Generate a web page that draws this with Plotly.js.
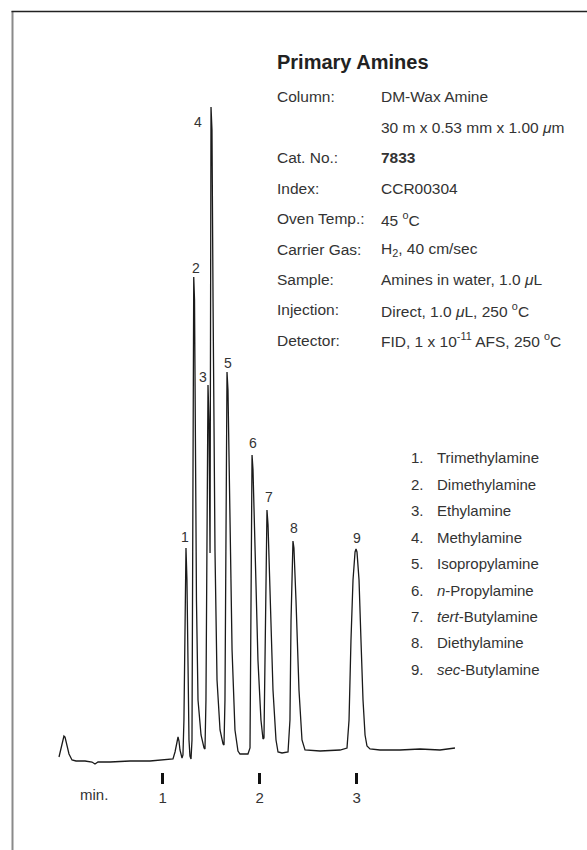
<!DOCTYPE html>
<html>
<head>
<meta charset="utf-8">
<script src="https://cdn.plot.ly/plotly-3.0.1.min.js"></script>
<style>
  html, body { margin: 0; padding: 0; background: #fff; }
  #chart { width: 587px; height: 850px; }
</style>
</head>
<body>
<div id="chart"></div>
<script>
// ---------------- DATA ----------------
// retention time (min) and detector response (arbitrary units)
const timeMin = [
  -0.069, -0.048, -0.028, -0.018, -0.007, 0.013, 0.034, 0.065, 0.106, 0.199, 0.271, 0.302, 0.333, 0.457, 0.663, 0.869, 1.055, 1.106,
  1.127, 1.148, 1.158, 1.168, 1.178, 1.199,
  1.209, 1.219, 1.230, 1.240, 1.250, 1.261, 1.271, 1.281, 1.292,
  1.302, 1.312, 1.320, 1.328, 1.338, 1.348, 1.364, 1.395, 1.426, 1.436,
  1.446, 1.457, 1.467, 1.477, 1.488,
  1.498, 1.508, 1.519, 1.539, 1.560, 1.591, 1.622, 1.632,
  1.642, 1.653, 1.663, 1.673, 1.694, 1.715, 1.745, 1.776, 1.797, 1.879, 1.900,
  1.910, 1.921, 1.931, 1.952, 1.982, 2.013, 2.034, 2.044,
  2.055, 2.075, 2.086, 2.106, 2.137, 2.168, 2.189, 2.230, 2.292, 2.312,
  2.323, 2.343, 2.353, 2.374, 2.405, 2.436, 2.467, 2.622, 2.828, 2.900,
  2.921, 2.941, 2.962, 2.983, 2.993, 3.003, 3.024, 3.044, 3.065, 3.086, 3.106, 3.137, 3.240, 3.446, 3.653, 3.859, 4.013
];
const response = [
  13, 22, 32, 34, 33, 25, 16, 10, 9, 9, 8, 6, 8, 8, 9, 9, 10, 11,
  18, 30, 33, 29, 20, 12,
  15, 50, 150, 222, 190, 90, 30, 14, 11,
  30, 320, 493, 470, 320, 170, 70, 35, 22, 21,
  70, 270, 385, 350, 217,
  663, 640, 470, 220, 90, 40, 26, 25,
  70, 270, 398, 380, 250, 120, 40, 19, 16, 16, 22,
  170, 315, 300, 210, 110, 50, 31, 32,
  120, 260, 245, 170, 80, 30, 18, 17, 18, 50,
  150, 229, 222, 170, 80, 30, 20, 19, 20, 22,
  50, 130, 190, 218, 221, 218, 190, 130, 70, 35, 24, 21, 20, 20, 21, 20, 22
];

// peak apexes
const peakNumbers = ['1', '2', '3', '4', '5', '6', '7', '8', '9'];
const peakTimes   = [1.240, 1.320, 1.467, 1.498, 1.663, 1.921, 2.075, 2.343, 2.993];
const peakHeights = [222, 493, 385, 663, 398, 315, 260, 229, 221];

// compound list
const compoundNames = [
  'Trimethylamine', 'Dimethylamine', 'Ethylamine', 'Methylamine', 'Isopropylamine',
  '<i>n</i>-Propylamine', '<i>tert</i>-Butylamine', 'Diethylamine', '<i>sec</i>-Butylamine'
];

// conditions
const condLabels = ['Column:', '', 'Cat. No.:', 'Index:', 'Oven Temp.:', 'Carrier Gas:', 'Sample:', 'Injection:', 'Detector:'];
const condValues = [
  'DM-Wax Amine',
  '30 m x 0.53 mm x 1.00 <i>μ</i>m',
  '<b>7833</b>',
  'CCR00304',
  '45 <sup>o</sup>C',
  'H<sub>2</sub>, 40 cm/sec',
  'Amines in water, 1.0 <i>μ</i>L',
  'Direct, 1.0 <i>μ</i>L, 250 <sup>o</sup>C',
  'FID, 1 x 10<sup>-11</sup> AFS, 250 <sup>o</sup>C'
];

const titleText = 'Primary Amines';
const tickVals = [1, 2, 3];
const tickText = ['1', '2', '3'];
const axisUnit = 'min.';

// ---------------- LAYOUT HELPERS ----------------
const W = 587, H = 850;
const M = { l: 0, r: 0, t: 72, b: 78 };
const plotH = H - M.t - M.b;            // 700
const px = x => x / W;                  // pixel -> paper x
const py = y => (H - M.b - y) / plotH;  // pixel -> paper y

const FONT = '"Liberation Sans", Arial, Helvetica, sans-serif';
const TXT = '#333333';

const annotations = [];

// title
annotations.push({
  xref: 'paper', yref: 'paper', x: px(275), y: py(62), xanchor: 'left', yanchor: 'middle',
  text: titleText, showarrow: false, font: { family: FONT, size: 20, color: '#222', weight: 'bold' }
});

// conditions block
condLabels.forEach((lab, i) => {
  const yy = 97 + i * 30.4;
  if (lab) annotations.push({
    xref: 'paper', yref: 'paper', x: px(275), y: py(yy), xanchor: 'left', yanchor: 'middle',
    text: lab, showarrow: false, font: { family: FONT, size: 15.5, color: TXT }
  });
  annotations.push({
    xref: 'paper', yref: 'paper', x: px(379), y: py(yy), xanchor: 'left', yanchor: 'middle',
    text: condValues[i], showarrow: false, font: { family: FONT, size: 15.5, color: TXT }
  });
});

// compound list
compoundNames.forEach((nm, i) => {
  const yy = 458 + i * 26.4;
  annotations.push({
    xref: 'paper', yref: 'paper', x: px(409), y: py(yy), xanchor: 'left', yanchor: 'middle',
    text: peakNumbers[i] + '.', showarrow: false, font: { family: FONT, size: 15, color: TXT }
  });
  annotations.push({
    xref: 'paper', yref: 'paper', x: px(435), y: py(yy), xanchor: 'left', yanchor: 'middle',
    text: nm, showarrow: false, font: { family: FONT, size: 15, color: TXT }
  });
});

// peak number labels, attached to the apexes
const labDx = [-1, 2, -5, -13, 1, 1, 2, 1, 1];
const labDy = [11, 9, 8, -15, 9, 12, 13, 13, 11];
peakNumbers.forEach((n, i) => {
  annotations.push({
    xref: 'x', yref: 'y', x: peakTimes[i], y: peakHeights[i], xshift: labDx[i], yshift: labDy[i],
    xanchor: 'center', yanchor: 'middle', text: n, showarrow: false,
    font: { family: FONT, size: 14, color: TXT }
  });
});

// axis unit label
annotations.push({
  xref: 'paper', yref: 'paper', x: px(94), y: py(794), xanchor: 'center', yanchor: 'middle',
  text: axisUnit, showarrow: false, font: { family: FONT, size: 15, color: TXT }
});

// frame lines
const shapes = [
  { type: 'line', xref: 'paper', yref: 'paper', x0: px(12.5), x1: px(12.5), y0: py(11), y1: py(852),
    line: { color: '#8a8a8a', width: 2 } },
  { type: 'line', xref: 'paper', yref: 'paper', x0: px(11.5), x1: px(590), y0: py(11.5), y1: py(11.5),
    line: { color: '#222', width: 1.3 } }
];

// x range so that 1 min = 97 px and t=0 sits at x = 65.7 px
const x0px = 65.7, pxPerMin = 97;
const xRange = [(0 - x0px) / pxPerMin, (W - x0px) / pxPerMin];

const trace = {
  x: timeMin, y: response, type: 'scatter', mode: 'lines',
  line: { color: '#1a1a1a', width: 1.3, shape: 'linear' },
  hoverinfo: 'skip', showlegend: false
};

const layout = {
  width: W, height: H,
  margin: M,
  paper_bgcolor: '#fff', plot_bgcolor: 'rgba(0,0,0,0)',
  showlegend: false,
  xaxis: {
    range: xRange, showgrid: false, zeroline: false, showline: false,
    tickvals: tickVals, ticktext: tickText, ticks: 'outside', ticklen: 11, tickwidth: 2.6,
    tickcolor: '#111', tickfont: { family: FONT, size: 15, color: TXT }, ticklabelstandoff: 1,
    fixedrange: true
  },
  yaxis: {
    range: [-2, 698], visible: false, showgrid: false, zeroline: false, fixedrange: true
  },
  annotations: annotations,
  shapes: shapes
};

Plotly.newPlot('chart', [trace], layout, { displayModeBar: false, staticPlot: true });
</script>
</body>
</html>
